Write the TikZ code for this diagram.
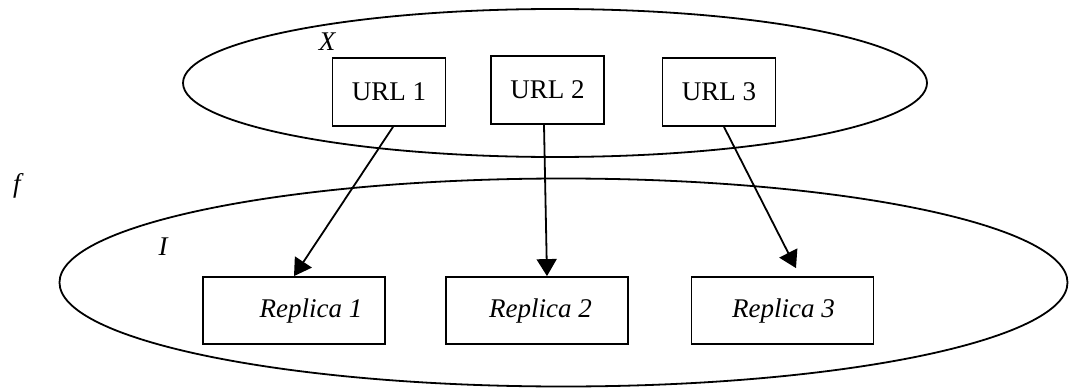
\documentclass[tikz,border=0pt]{standalone}
\usepackage{fontspec}
\setmainfont{Liberation Serif}
\usetikzlibrary{arrows.meta,calc}
\tikzset{
  line/.style={line width=1.8pt, black},
  urlbox/.style={draw, line width=1.8pt, minimum width=113pt, minimum height=68pt, inner sep=0pt, font=\fontsize{27}{32}\selectfont},
  repbox/.style={draw, line width=1.8pt, minimum width=182pt, minimum height=67pt, inner sep=0pt},
  reptext/.style={font=\fontsize{27}{32}\selectfont\itshape, inner sep=0pt},
  lbl/.style={font=\fontsize{27}{32}\selectfont\itshape, inner sep=0pt},
  arr/.style={line width=1.8pt, -{Triangle[length=17pt,width=20pt]}}
}
\begin{document}
\begin{tikzpicture}[x=1pt,y=-1pt]
\useasboundingbox (0,0) rectangle (1069,388);
% containers
\draw[line] (555,83) ellipse [x radius=372, y radius=74];
\draw[line] (563.5,282.5) ellipse [x radius=504, y radius=104];
% labels
\node[lbl] (X) at (327,42) {X};
\node[lbl] (f) at (17,186) {f};
\node[lbl] (I) at (163,247) {I};
% URL boxes
\node[urlbox] (u1) at (389,92) {URL 1};
\node[urlbox] (u2) at (547.5,90) {URL 2};
\node[urlbox] (u3) at (719,92) {URL 3};
% replica boxes
\node[repbox] (r1) at (294,310.5) {};
\node[repbox] (r2) at (537,310.5) {};
\node[repbox] (r3) at (782.5,310.5) {};
\node[reptext] (t1) at (311,311) {Replica 1};
\node[reptext] (t2) at (540.5,311) {Replica 2};
\node[reptext] (t3) at (783.5,311) {Replica 3};
% connectors
\draw[arr] ($(u1.south)+(4,0)$) -- (r1.north);
\draw[arr] ($(u2.south)+(-3.5,0)$) -- ($(r2.north)+(10,0)$);
\draw[arr] ($(u3.south)+(5,0)$) -- ($(r3.north)+(13.5,-8)$);
\end{tikzpicture}
\end{document}
